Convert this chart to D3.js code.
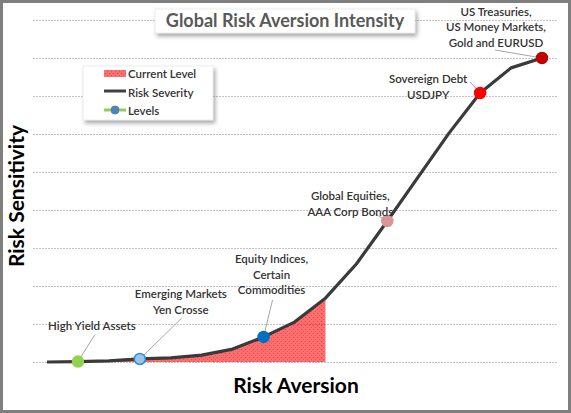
<!DOCTYPE html>
<html>
<head>
<meta charset="utf-8">
<script src="https://cdn.jsdelivr.net/npm/d3@7"></script>
<style>
  html, body { margin: 0; padding: 0; background: #fff; }
  svg { display: block; font-family: Lato, "Open Sans", sans-serif; }
</style>
</head>
<body>
<div id="chart"></div>
<script>
// curve points (position along risk aversion) and severity values (grid units)
const steps = [0, 1, 2, 3, 4, 5, 6, 7, 8, 9, 10, 11, 12, 13, 14, 15, 16];
const severity = [0, 0.01, 0.03, 0.08, 0.11, 0.18, 0.34, 0.66, 1.05, 1.68, 2.58, 3.71, 4.87, 6.03, 7.08, 7.74, 8.0];
const currentLevel = 9; // shaded up to this step
const yTicks = [0, 1, 2, 3, 4, 5, 6, 7, 8, 9];

// levels with their labels
const levelSteps = [1, 3, 7, 11, 14, 16];
const levelLabels = [
  ["High Yield Assets"],
  ["Emerging Markets", "Yen Crosse"],
  ["Equity Indices,", "Certain", "Commodities"],
  ["Global Equities,", "AAA Corp Bonds"],
  ["Sovereign Debt", "USDJPY"],
  ["US Treasuries,", "US Money Markets,", "Gold and EURUSD"]
];
const levelColors = ["#92d050", "#9dc3e6", "#0070c0", "#d99694", "#ff0000", "#c00000"];
const levelStrokes = ["#92d050", "#2e8bd8", "#0070c0", "#d99694", "#ff0000", "#c00000"];

// label placement, pixels relative to the point: text centre and leader start
const labelOffsets = [
  {dx: 14, dy: -36, lx: 17, ly: -27},
  {dx: 41, dy: -57, lx: 42, ly: -41},
  {dx: 8, dy: -62, lx: 9, ly: -37},
  {dx: -37, dy: -17, lx: -12, ly: -7},
  {dx: -52, dy: -6, lx: -10, ly: -11},
  {dx: -46, dy: -31, lx: -47, ly: -8}
];

const W = 571, H = 413;

const svg = d3.select("#chart").append("svg")
  .attr("width", W).attr("height", H);

const defs = svg.append("defs");
const shadow = defs.append("filter").attr("id", "shadow")
  .attr("x", "-10%").attr("y", "-20%").attr("width", "130%").attr("height", "160%");
shadow.append("feDropShadow")
  .attr("dx", 2).attr("dy", 3).attr("stdDeviation", 2)
  .attr("flood-color", "#000").attr("flood-opacity", 0.35);

const dots = defs.append("pattern").attr("id", "dots")
  .attr("width", 4).attr("height", 4).attr("patternUnits", "userSpaceOnUse");
dots.append("rect").attr("width", 4).attr("height", 4).attr("fill", "#ff0000").attr("fill-opacity", 0.57);
dots.append("rect").attr("x", 1).attr("y", 1).attr("width", 1).attr("height", 1).attr("fill", "#d04848");
dots.append("rect").attr("x", 3).attr("y", 3).attr("width", 1).attr("height", 1).attr("fill", "#e05858");

// outer frame
svg.append("rect")
  .attr("x", 1.5).attr("y", 1.5).attr("width", W - 3).attr("height", H - 3)
  .attr("fill", "#fff").attr("stroke", "#7f7f7f").attr("stroke-width", 3);

const x = d3.scalePoint()
  .domain(steps)
  .range([47, 542]);

const y = d3.scaleLinear()
  .domain([0, 9])
  .range([362, 20]);

// gridlines
const grid = svg.append("g")
  .attr("transform", "translate(33,0)")
  .call(d3.axisLeft(y).tickValues(yTicks).tickSize(-525).tickFormat(""));
grid.select(".domain").remove();
grid.selectAll(".tick line")
  .attr("stroke", "#c9bfcb")
  .attr("stroke-dasharray", "2,1");

// current level area
const areaData = steps.filter(s => s <= currentLevel);
svg.append("path")
  .datum(areaData)
  .attr("fill", "url(#dots)")
  .attr("d", d3.area()
    .x(s => x(s))
    .y0(y(0))
    .y1(s => y(severity[s])));

// leader lines
const levels = levelSteps.map((s, i) => ({
  s: s, px: x(s), py: y(severity[s]),
  lines: levelLabels[i], off: labelOffsets[i],
  fill: levelColors[i], stroke: levelStrokes[i]
}));

svg.append("g").selectAll("line")
  .data(levels)
  .join("line")
  .attr("x1", d => d.px + d.off.lx)
  .attr("y1", d => d.py + d.off.ly)
  .attr("x2", d => d.px)
  .attr("y2", d => d.py)
  .attr("stroke", "#a6a6a6")
  .attr("stroke-width", 1);

// risk severity curve
svg.append("path")
  .datum(steps)
  .attr("fill", "none")
  .attr("stroke", "#3a3a3a")
  .attr("stroke-width", 3.2)
  .attr("stroke-linejoin", "round")
  .attr("d", d3.line()
    .x(s => x(s))
    .y(s => y(severity[s])));

// level markers
svg.append("g").selectAll("circle")
  .data(levels)
  .join("circle")
  .attr("cx", d => d.px)
  .attr("cy", d => d.py)
  .attr("r", 5.5)
  .attr("fill", d => d.fill)
  .attr("stroke", d => d.stroke)
  .attr("stroke-width", 1.5);

// level labels
const lab = svg.append("g").selectAll("text")
  .data(levels)
  .join("text")
  .attr("text-anchor", "middle")
  .attr("font-size", 11.5)
  .attr("fill", "#333")
  .attr("font-weight", 600);
lab.each(function(d) {
  const t = d3.select(this);
  const n = d.lines.length;
  d.lines.forEach((ln, k) => {
    t.append("tspan")
      .attr("x", d.px + d.off.dx)
      .attr("y", d.py + d.off.dy + (k - (n - 1) / 2) * 15.5 + 4)
      .text(ln);
  });
});

// title
const title = svg.append("g");
title.append("rect")
  .attr("x", 155).attr("y", 9).attr("width", 260).attr("height", 24)
  .attr("fill", "#fff").attr("stroke", "#d9d9d9").attr("stroke-width", 0.5)
  .attr("filter", "url(#shadow)");
title.append("text")
  .attr("x", 285).attr("y", 27)
  .attr("text-anchor", "middle")
  .attr("font-size", 18).attr("font-weight", "bold")
  .attr("fill", "#595959")
  .text("Global Risk Aversion Intensity");

// legend
const legend = svg.append("g");
legend.append("rect")
  .attr("x", 83).attr("y", 66).attr("width", 130).attr("height", 54)
  .attr("fill", "#fff").attr("stroke", "#d9d9d9").attr("stroke-width", 0.5)
  .attr("filter", "url(#shadow)");
legend.append("rect")
  .attr("x", 104).attr("y", 70).attr("width", 22).attr("height", 7)
  .attr("fill", "url(#dots)");
legend.append("line")
  .attr("x1", 104).attr("x2", 126).attr("y1", 91).attr("y2", 91)
  .attr("stroke", "#404040").attr("stroke-width", 3);
legend.append("line")
  .attr("x1", 104).attr("x2", 126).attr("y1", 110).attr("y2", 110)
  .attr("stroke", "#92d050").attr("stroke-width", 3);
legend.append("circle")
  .attr("cx", 115).attr("cy", 110).attr("r", 4)
  .attr("fill", "#4f81bd").attr("stroke", "#4f81bd");
legend.selectAll("text")
  .data(["Current Level", "Risk Severity", "Levels"])
  .join("text")
  .attr("x", 128)
  .attr("y", (d, i) => 78 + i * 18.5)
  .attr("font-size", 11.5)
  .attr("font-weight", 600)
  .attr("fill", "#333")
  .text(d => d);

// axis titles
svg.append("text")
  .attr("x", 296).attr("y", 393)
  .attr("text-anchor", "middle")
  .attr("font-size", 21).attr("font-weight", "bold")
  .attr("fill", "#000")
  .text("Risk Aversion");
svg.append("text")
  .attr("transform", "translate(24,196) rotate(-90)")
  .attr("text-anchor", "middle")
  .attr("font-size", 21).attr("font-weight", "bold")
  .attr("fill", "#000")
  .text("Risk Sensitivity");
</script>
</body>
</html>
